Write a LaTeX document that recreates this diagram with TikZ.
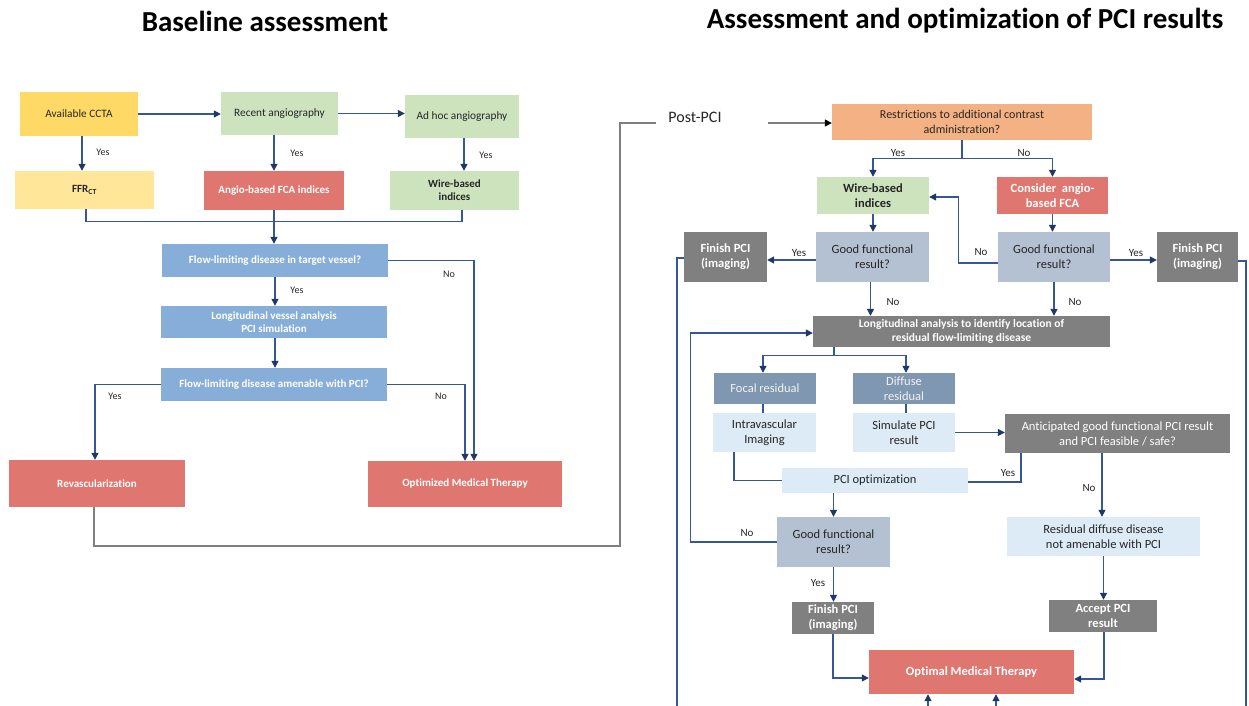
\documentclass[tikz,border=0pt]{standalone}
\usepackage{fontspec}
\setmainfont[Ligatures={NoCommon}]{Carlito}
\usetikzlibrary{arrows.meta,calc}
\definecolor{cYel}{HTML}{FFD966}
\definecolor{cYelL}{HTML}{FFE699}
\definecolor{cGrn}{HTML}{CDE3BE}
\definecolor{cRed}{HTML}{E07670}
\definecolor{cBlu}{HTML}{87AED8}
\definecolor{cPch}{HTML}{F4B183}
\definecolor{cGB}{HTML}{B4C1D2}
\definecolor{cGry}{HTML}{808080}
\definecolor{cSl}{HTML}{8097B1}
\definecolor{cLB}{HTML}{DDEBF7}
\definecolor{cTxt}{HTML}{262626}
\definecolor{cLine}{HTML}{35579A}
\definecolor{cHead}{HTML}{1F3864}
\definecolor{cGL}{HTML}{7F7F7F}
\begin{document}
\begin{tikzpicture}[x=1pt,y=-1pt,
  bx/.style 2 args={rectangle, draw=none, inner sep=1pt, align=center, minimum width=#1, minimum height=#2},
  fL/.style={font=\fontsize{11.3}{13}\selectfont},
  fLb/.style={font=\fontsize{11}{13}\selectfont\bfseries},
  fR/.style={font=\fontsize{12.5}{15}\selectfont},
  fRb/.style={font=\fontsize{12.5}{15}\selectfont\bfseries},
  dk/.style={text=cTxt},
  wh/.style={text=white},
  lab/.style={font=\fontsize{10}{12}\selectfont, text=cTxt, inner sep=0pt},
  labR/.style={font=\fontsize{11}{13}\selectfont, text=cTxt, inner sep=0pt},
  ln/.style={draw=cLine, line width=1.2pt},
  ar/.style={ln, -{Triangle[length=7pt,width=7pt,color=cHead]}},
  gl/.style={draw=cGL, line width=1.3pt},
  gar/.style={gl, -{Triangle[length=7pt,width=7pt,color=black]}}
]
\useasboundingbox[fill=white] (0,0) rectangle (1249,706);

% titles
\node[font=\fontsize{29}{33}\selectfont\bfseries, text=black] (t1) at (265,21) {Baseline assessment};
\node[font=\fontsize{29}{33}\selectfont\bfseries, text=black] (t2) at (965,21) {Assessment and optimization of PCI results};

% ---------- left part ----------
\node[bx={118}{44}, fill=cYel, fL, dk] (ccta) at (79,114) {Available CCTA};
\node[bx={117}{43}, fill=cGrn, fL, dk] (recent) at (279.5,113.5) {Recent angiography};
\node[bx={114}{43}, fill=cGrn, fL, dk] (adhoc) at (462,116.5) {Ad hoc angiography};
\node[bx={139}{38}, fill=cYelL, fLb, dk] (ffr) at (84.5,190) {FFR\textsubscript{CT}};
\node[bx={140}{39}, fill=cRed, fLb, wh] (angio) at (274,190.5) {Angio-based FCA indices};
\node[bx={129}{39}, fill=cGrn, fLb, dk] (wire) at (454.5,190.5) {Wire-based\\indices};
\node[bx={226}{33}, fill=cBlu, fLb, wh] (flow1) at (275,260.5) {Flow-limiting disease in target vessel?};
\node[bx={226}{32}, fill=cBlu, fLb, wh] (longi) at (274,322) {Longitudinal vessel analysis\\PCI simulation};
\node[bx={226}{33}, fill=cBlu, fLb, wh] (amen) at (274,384.5) {Flow-limiting disease amenable with PCI?};
\node[bx={176}{47}, fill=cRed, fLb, wh] (revasc) at (97,483.5) {Revascularization};
\node[bx={194}{46}, fill=cRed, fLb, wh] (omt1) at (465,484) {Optimized Medical Therapy};

\draw[ar] (ccta.east) -- (ccta.east -| recent.west);
\draw[ar] (recent.east) -- (recent.east -| adhoc.west);
\draw[ar] ([xshift=3]ccta.south) -- ([xshift=3]ccta.south |- ffr.north);
\draw[ar] (angio.north |- recent.south) -- (angio.north);
\draw[ar] ([xshift=2]adhoc.south) -- ([xshift=2]adhoc.south |- wire.north);
\draw[ln] ([xshift=1.5]ffr.south) -- ++(0,12.5) -| ([xshift=7.5]wire.south);
\draw[ar] (angio.south) -- (angio.south |- flow1.north);
\draw[ar] (flow1.south) -- (flow1.south |- longi.north);
\draw[ar] (flow1.south |- longi.south) -- (flow1.south |- amen.north);
\draw[ar] (flow1.east) -| ([xshift=9]omt1.north);
\draw[ar] (amen.west) -| ([xshift=-2]revasc.north);
\draw[ar] (amen.east) -| (omt1.north);

\node[lab] (y1) at (103,152) {Yes};
\node[lab] (y2) at (297,153) {Yes};
\node[lab] (y3) at (486,155) {Yes};
\node[lab] (y4) at (297,290) {Yes};
\node[lab] (n1) at (449,274) {No};
\node[lab] (y5) at (115,396) {Yes};
\node[lab] (n2) at (441,396) {No};

% ---------- link ----------
\node[font=\fontsize{16}{19}\selectfont, text=cTxt, inner xsep=12pt, inner ysep=0pt, anchor=base] (postpci) at (695,123) {Post-PCI};
\coordinate (pc) at (620,546);
\draw[gl] ([xshift=-3]revasc.south) |- (pc) |- (postpci.base west);

% ---------- right part ----------
\node[bx={260}{36}, fill=cPch, fR, dk, font=\fontsize{12}{15}\selectfont] (restr) at (962,122) {Restrictions to additional contrast\\administration?};
\draw[gar] ([xshift=34]postpci.base east) -- (postpci.base east -| restr.west);

\node[bx={112}{37}, fill=cGrn, fRb, dk] (wire2) at (873,195.5) {Wire-based\\indices};
\node[bx={111}{37}, fill=cRed, fRb, wh] (consider) at (1052.5,195.5) {Consider\ \ angio-\\based FCA};
\node[bx={113}{50}, fill=cGB, fR, dk] (good1) at (872.5,257) {Good functional\\result?};
\node[bx={112}{50}, fill=cGB, fR, dk] (good2) at (1054,257) {Good functional\\result?};
\node[bx={83}{50}, fill=cGry, fRb, wh] (fin1) at (725.5,257) {Finish PCI\\(imaging)};
\node[bx={81}{50}, fill=cGry, fRb, wh] (fin2) at (1197.5,257) {Finish PCI\\(imaging)};
\node[bx={297}{31}, fill=cGry, fRb, wh, font=\fontsize{11.5}{14}\selectfont\bfseries] (lana) at (961.5,331.5) {Longitudinal analysis to identify location of\\residual flow-limiting disease};
\node[bx={102}{31}, fill=cSl, fR, text=white!95!black] (focal) at (765,388.5) {Focal residual};
\node[bx={102}{31}, fill=cSl, fR, text=white!95!black] (diffuse) at (904,388.5) {Diffuse\\residual};
\node[bx={103}{39}, fill=cLB, fR, dk] (intra) at (764.5,432.5) {Intravascular\\Imaging};
\node[bx={102}{39}, fill=cLB, fR, dk] (sim) at (904,432.5) {Simulate PCI\\result};
\node[bx={225}{39}, fill=cGry, fR, wh] (antic) at (1117.5,433.5) {Anticipated good functional PCI result\\and PCI feasible / safe?};
\node[bx={186}{25}, fill=cLB, fR, dk] (pciopt) at (875,480.5) {PCI optimization};
\node[bx={113}{50}, fill=cGB, fR, dk] (good3) at (833.5,542) {Good functional\\result?};
\node[bx={193}{39}, fill=cLB, fR, dk] (resid) at (1103.5,536.5) {Residual diffuse disease\\not amenable with PCI};
\node[bx={82}{32}, fill=cGry, fRb, wh] (fin3) at (833,618) {Finish PCI\\(imaging)};
\node[bx={108}{32}, fill=cGry, fRb, wh] (accept) at (1103,616) {Accept PCI\\result};
\node[bx={205}{44}, fill=cRed, fRb, wh] (omt2) at (971.5,672) {Optimal Medical Therapy};

\coordinate (bl) at (677,706);
\coordinate (br) at (1246,706);
\coordinate (b1) at (928,706);
\coordinate (b2) at (996,706);

\draw[ln] (restr.south) -- ++(0,18) coordinate (rs);
\draw[ar] (rs) -| (wire2.north);
\draw[ar] (rs) -| (consider.north);
\draw[ar] (wire2.south) -- (wire2.south |- good1.north);
\draw[ar] (consider.south) -- (consider.south |- good2.north);
\draw[ar] ([yshift=-3]good1.west) -- ([yshift=-3]good1.west -| fin1.east);
\draw[ar] ([yshift=-3]good2.east) -- ([yshift=-3]good2.east -| fin2.west);
\draw[ar] ([yshift=-6]good2.west) -- ++(-39,0) |- ([yshift=-1.5]wire2.east);
\draw[ar] ([xshift=-2]good1.south) -- ([xshift=-2]good1.south |- lana.north);
\draw[ar] (good2.south) -- (good2.south |- lana.north);
\draw[ln] ([yshift=-1]fin1.west) -| (bl);
\draw[ln] ([yshift=-4]fin2.east) -| (br);
\draw[ln] ([xshift=-127.5]lana.south) -- ++(0,8) coordinate (ls);
\draw[ar] (ls) -| ([xshift=-2]focal.north);
\draw[ar] (ls) -| ([xshift=2]diffuse.north);
\draw[ln] ([xshift=-2]focal.south) -- ([xshift=-2]focal.south |- intra.north);
\draw[ln] ([xshift=2]diffuse.south) -- ([xshift=2]diffuse.south |- sim.north);
\draw[ar] (sim.east) -- (sim.east -| antic.west);
\draw[ln] ([xshift=-30.5]intra.south) |- (pciopt.west);
\draw[ln] ([xshift=-96.5]antic.south) |- ([yshift=-1.5]pciopt.east);
\draw[ar] ([xshift=-15.5]antic.south) -- ([xshift=-15.5]antic.south |- resid.north);
\draw[ar] (good3.north |- pciopt.south) -- (good3.north);
\draw[ar] (good3.west) -- ++(-86,0) |- ([yshift=-1.5]lana.west);
\draw[ar] (good3.south) -- (good3.south |- fin3.north);
\draw[ar] (fin3.south) |- ([yshift=-6]omt2.west);
\draw[ar] (resid.south) -- (resid.south |- accept.north);
\draw[ar] ([xshift=1]accept.south) |- ([yshift=-7]omt2.east);
\draw[ar] (b1) -- (b1 |- omt2.south);
\draw[ar] (b2) -- (b2 |- omt2.south);

\node[labR] (ry1) at (898,153) {Yes};
\node[labR] (rn1) at (1024,153) {No};
\node[labR] (ry2) at (799,253) {Yes};
\node[labR] (rn2) at (981,252) {No};
\node[labR] (ry3) at (1136,253) {Yes};
\node[labR] (rn3) at (893,302) {No};
\node[labR] (rn4) at (1075,302) {No};
\node[labR] (ry4) at (1008,473) {Yes};
\node[labR] (rn5) at (1089,488) {No};
\node[labR] (rn6) at (747,533) {No};
\node[labR] (ry5) at (818,583) {Yes};
\end{tikzpicture}
\end{document}
